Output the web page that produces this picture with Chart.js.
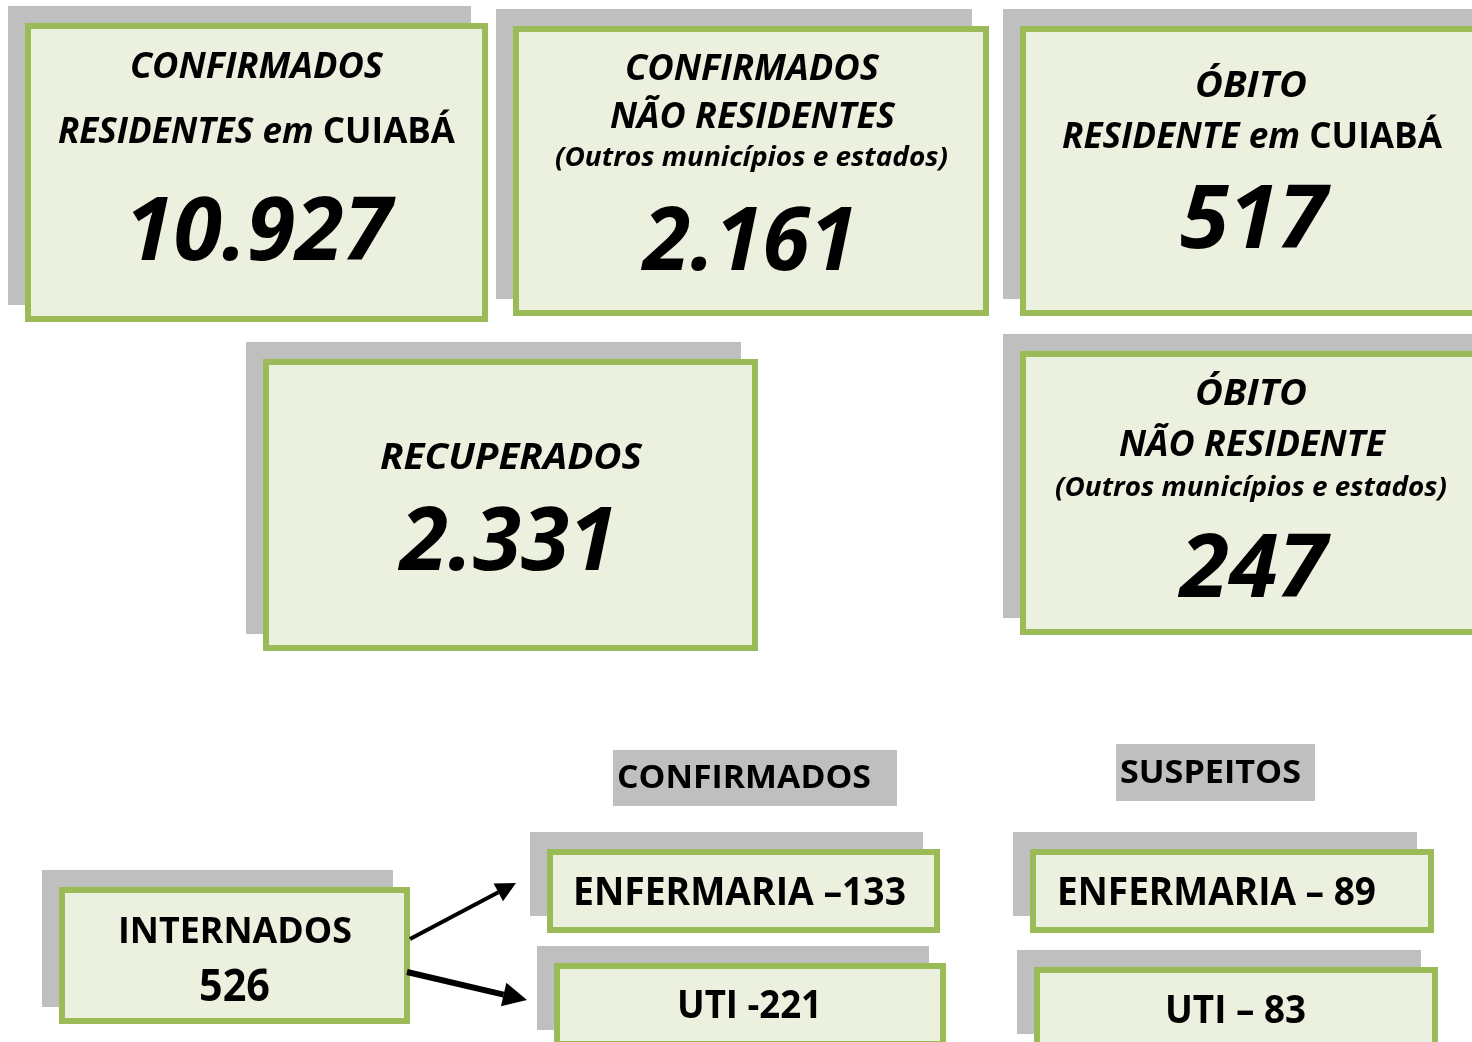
<!DOCTYPE html>
<html>
<head>
<meta charset="utf-8">
<script src="https://cdn.jsdelivr.net/npm/chart.js@4.4.1/dist/chart.umd.min.js"></script>
<style>
  html, body { margin: 0; padding: 0; background: #fff; }
  #wrap { position: relative; width: 1472px; height: 1042px; }
</style>
</head>
<body>
<div id="wrap"><canvas id="painel"></canvas></div>
<script>
// Boletim COVID-19 Cuiabá - painel de indicadores

// dados
const tileTitles = [
  ['CONFIRMADOS', 'RESIDENTES em CUIABÁ'],
  ['CONFIRMADOS', 'NÃO RESIDENTES', '(Outros municípios e estados)'],
  ['ÓBITO', 'RESIDENTE em CUIABÁ'],
  ['RECUPERADOS'],
  ['ÓBITO', 'NÃO RESIDENTE', '(Outros municípios e estados)'],
];
const tileValues = [10927, 2161, 517, 2331, 247];

const internadosLabel = 'INTERNADOS';
const internadosTotal = 526;

const groupLabels = ['CONFIRMADOS', 'SUSPEITOS'];
const leitoLabels = ['ENFERMARIA', 'UTI'];
const leitoSeps   = [[' –', ' -'], [' – ', ' – ']];   // grafia do boletim
const confirmadosLeitos = [133, 221];
const suspeitosLeitos   = [89, 83];

// estilo / layout (px do painel)
const COR = { borda: '#9BBB59', fundo: '#EBF1DE', sombra: '#BFBFBF', texto: '#000' };
const FONTE = '"Open Sans", Lato, "DejaVu Sans", sans-serif';
const SOMBRA = 17;
const BORDA = 6;

// [x, y, w, h] do quadro verde; linhas: [cx, baseline, tamanho, largura]
const tileLayout = [
  { box: [25, 23, 463, 299],  lines: [[256.5, 78, 36, 253], [256.5, 143, 36, 397]], num: [258.5, 260, 88, 267] },
  { box: [513, 26, 476, 290], lines: [[752, 80, 36, 254], [752.5, 128, 36, 285], [751.5, 166, 26, 393]], num: [750, 270, 88, 214] },
  { box: [1020, 26, 480, 290], lines: [[1251, 97, 36, 112], [1252, 148, 36, 380]], num: [1253.5, 248, 88, 147] },
  { box: [263, 359, 495, 292], lines: [[511, 469, 36, 262]], num: [508.5, 570, 88, 217] },
  { box: [1020, 351, 480, 284], lines: [[1251, 405, 36, 112], [1252, 456, 36, 266], [1251, 496, 26, 392]], num: [1253.5, 597, 88, 147] },
];
const uprightWords = ['CUIABÁ'];

const groupLayout = [
  { box: [613, 750, 284, 56], text: [744, 788, 33, 254] },
  { box: [1116, 744, 199, 57], text: [1210.5, 783, 33, 181] },
];
const internadosLayout = { box: [59, 887, 351, 137], label: [235, 943, 35, 234], num: [234.5, 1001, 44, 71] };
const leitoLayout = [
  [ { box: [547, 849, 393, 84], text: [739.5, 905, 40, 333] },
    { box: [554, 963, 392, 84], text: [749.5, 1018, 40, 145] } ],
  [ { box: [1030, 849, 404, 84], text: [1216.5, 905, 40, 319] },
    { box: [1034, 967, 404, 84], text: [1235.5, 1023, 40, 141] } ],
];
const setas = [
  { de: [410, 939], para: [516, 883], lw: 4, ponta: 20 },
  { de: [407, 972], para: [527, 1000], lw: 6, ponta: 24 },
];

const fmtNum = n => String(n).replace(/\B(?=(\d{3})+(?!\d))/g, '.');

const painelPlugin = {
  id: 'painel',
  afterDraw(chart) {
    const ctx = chart.ctx;
    const sx = chart.scales.x, sy = chart.scales.y;
    const px = v => sx.getPixelForValue(v);
    const py = v => sy.getPixelForValue(v);

    const rect = ([x, y, w, h]) => {
      const x0 = px(x), y0 = py(y);
      return [x0, y0, px(x + w) - x0, py(y + h) - y0];
    };

    const quadro = (b) => {
      const [x, y, w, h] = rect(b);
      ctx.fillStyle = COR.sombra;
      ctx.fillRect(x - SOMBRA, y - SOMBRA, w, h);
      ctx.fillStyle = COR.fundo;
      ctx.fillRect(x, y, w, h);
      ctx.strokeStyle = COR.borda;
      ctx.lineWidth = BORDA;
      ctx.strokeRect(x + BORDA / 2, y + BORDA / 2, w - BORDA, h - BORDA);
    };

    // segmentos [texto, italico]
    const texto = (segs, [cx, base, size, largura]) => {
      const fonte = it => `${it ? 'italic ' : ''}bold ${size}px ${FONTE}`;
      let total = 0;
      const ws = segs.map(([t, it]) => { ctx.font = fonte(it); const w = ctx.measureText(t).width; total += w; return w; });
      const esc = largura / total;
      ctx.save();
      ctx.translate(px(cx), py(base));
      ctx.scale(esc, 1);
      ctx.fillStyle = COR.texto;
      ctx.textAlign = 'left';
      ctx.textBaseline = 'alphabetic';
      let x = -total / 2;
      segs.forEach(([t, it], i) => { ctx.font = fonte(it); ctx.fillText(t, x, 0); x += ws[i]; });
      ctx.restore();
    };

    const segmentosItalicos = (linha) => {
      const out = [];
      let resto = linha;
      uprightWords.forEach(p => {
        const i = resto.indexOf(p);
        if (i >= 0) {
          if (i > 0) out.push([resto.slice(0, i), true]);
          out.push([p, false]);
          resto = resto.slice(i + p.length);
        }
      });
      if (resto) out.push([resto, true]);
      return out;
    };

    ctx.save();

    // quadros principais
    tileTitles.forEach((linhas, i) => {
      const lay = tileLayout[i];
      quadro(lay.box);
      linhas.forEach((l, j) => texto(segmentosItalicos(l), lay.lines[j]));
      texto([[fmtNum(tileValues[i]), true]], lay.num);
    });

    // rótulos de grupo
    groupLabels.forEach((g, i) => {
      const [x, y, w, h] = rect(groupLayout[i].box);
      ctx.fillStyle = COR.sombra;
      ctx.fillRect(x, y, w, h);
      texto([[g, false]], groupLayout[i].text);
    });

    // leitos
    [confirmadosLeitos, suspeitosLeitos].forEach((vals, g) => {
      vals.forEach((v, k) => {
        const lay = leitoLayout[g][k];
        quadro(lay.box);
        texto([[leitoLabels[k] + leitoSeps[g][k] + fmtNum(v), false]], lay.text);
      });
    });

    // internados
    quadro(internadosLayout.box);
    texto([[internadosLabel, false]], internadosLayout.label);
    texto([[fmtNum(internadosTotal), false]], internadosLayout.num);

    // setas
    setas.forEach(s => {
      const x0 = px(s.de[0]), y0 = py(s.de[1]);
      const x1 = px(s.para[0]), y1 = py(s.para[1]);
      const ang = Math.atan2(y1 - y0, x1 - x0);
      const bx = x1 - s.ponta * Math.cos(ang), by = y1 - s.ponta * Math.sin(ang);
      ctx.strokeStyle = COR.texto;
      ctx.fillStyle = COR.texto;
      ctx.lineWidth = s.lw;
      ctx.lineCap = 'butt';
      ctx.beginPath();
      ctx.moveTo(x0, y0);
      ctx.lineTo(bx, by);
      ctx.stroke();
      const meia = s.ponta * 0.5;
      ctx.beginPath();
      ctx.moveTo(x1, y1);
      ctx.lineTo(bx + meia * Math.sin(ang), by - meia * Math.cos(ang));
      ctx.lineTo(bx - meia * Math.sin(ang), by + meia * Math.cos(ang));
      ctx.closePath();
      ctx.fill();
    });

    ctx.restore();
  }
};

new Chart(document.getElementById('painel'), {
  type: 'scatter',
  data: { datasets: [] },
  options: {
    responsive: true,
    maintainAspectRatio: false,
    animation: false,
    events: [],
    layout: { padding: 0 },
    plugins: { legend: { display: false }, tooltip: { enabled: false } },
    scales: {
      x: { type: 'linear', min: 0, max: 1472, display: false },
      y: { type: 'linear', min: 0, max: 1042, reverse: true, display: false },
    },
  },
  plugins: [painelPlugin],
});
</script>
</body>
</html>
